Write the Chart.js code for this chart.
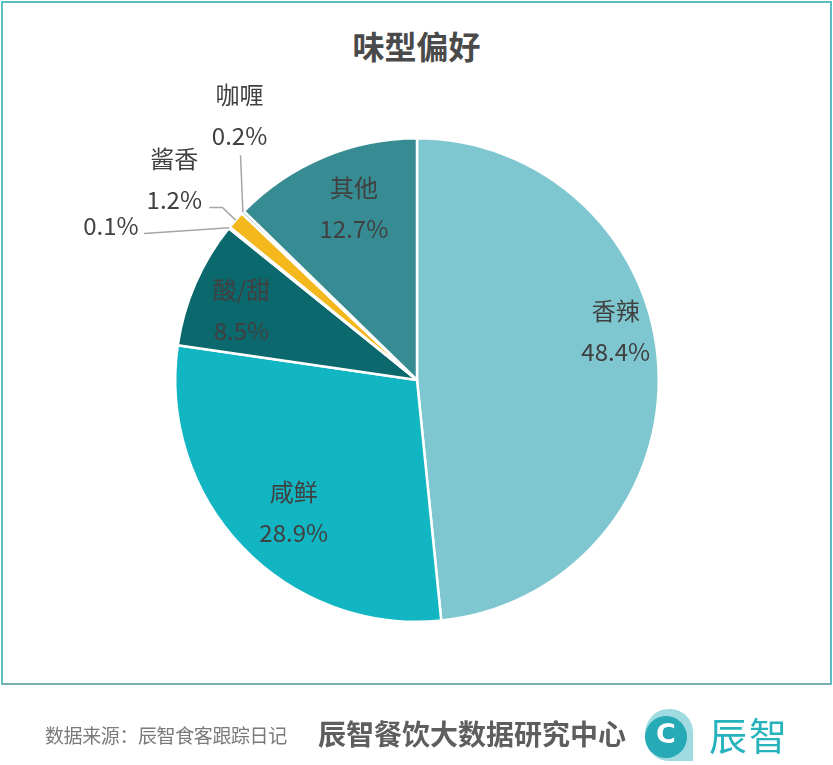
<!DOCTYPE html>
<html>
<head>
<meta charset="utf-8">
<script src="https://cdn.jsdelivr.net/npm/chart.js@4"></script>
<style>
  html, body { margin: 0; padding: 0; background: #ffffff; }
  #wrap { position: relative; width: 833px; height: 765px; overflow: hidden; font-family: "Noto Sans CJK SC", "Noto Sans", sans-serif; }
  #frame { position: absolute; left: 1px; top: 1px; width: 827px; height: 680px; border: 2px solid #5dbdc4; border-bottom-color: #78aeb0; }
  #title { position: absolute; left: 0; width: 833px; top: 21px; text-align: center; font-size: 32px; font-weight: bold; color: #4a4a4a; line-height: 48px; }
  canvas { position: absolute; left: 0; top: 0; }
  #src { position: absolute; left: 45px; top: 721px; font-size: 19px; color: #7a7a7a; line-height: 28px; letter-spacing: -0.4px; }
  #org { position: absolute; left: 318px; top: 713px; font-size: 28px; font-weight: bold; color: #5e5e5e; line-height: 40px; letter-spacing: 0px; }
  #logo { position: absolute; left: 643px; top: 707px; width: 52px; height: 56px; }
  #logoC { position: absolute; left: 643px; top: 715px; width: 46px; text-align: center; font-size: 27px; font-weight: bold; color: #ffffff; line-height: 38px; font-family: "DejaVu Sans", sans-serif; }
  #brand { position: absolute; left: 709px; top: 709px; font-size: 38px; color: #27b3bd; line-height: 50px; letter-spacing: 2px; }
</style>
</head>
<body>
<div id="wrap">
  <div id="frame"></div>
  <div id="title">味型偏好</div>
  <canvas id="c" width="833" height="765"></canvas>
  <div id="src">数据来源：辰智食客跟踪日记</div>
  <div id="org">辰智餐饮大数据研究中心</div>
  <svg id="logo" viewBox="0 0 52 56">
    <path d="M26 2 C40 2 50 12 50 26 L50 54 L26 54 C12 54 2 42 2 28 C2 13 12 2 26 2 Z" fill="#9fdbe0"/>
    <circle cx="23" cy="30" r="21" fill="#26aab6"/>
  </svg>
  <div id="logoC">C</div>
  <div id="brand">辰智</div>
</div>
<script>
// ---- data ----
const categories = ["香辣", "咸鲜", "酸/甜", "", "酱香", "咖喱", "其他"];
const shares = [48.4, 28.9, 8.5, 0.1, 1.2, 0.2, 12.7];
const percentLabels = ["48.4%", "28.9%", "8.5%", "0.1%", "1.2%", "0.2%", "12.7%"];

// ---- styling ----
const sliceColors = ["#7ec7d0", "#12b6c2", "#0b686d", "#9cc9cc", "#f5b81c", "#5fa8ae", "#378b93"];
// label block centre offsets (in units of pie radius, from pie centre)
const labelPlacement = [
  {dx: 0.822, dy: -0.203},
  {dx: -0.510, dy: 0.544},
  {dx: -0.726, dy: -0.290},
  {dx: -1.266, dy: -0.639},
  {dx: -1.004, dy: -0.834},
  {dx: -0.734, dy: -1.095},
  {dx: -0.261, dy: -0.714}
];
// leader line points after the slice edge (units of radius, from pie centre)
const leaders = {
  3: [{dx: -1.129, dy: -0.606}],
  4: [{dx: -0.805, dy: -0.714}, {dx: -0.859, dy: -0.714}],
  5: [{dx: -0.730, dy: -0.930}]
};

const labelPlugin = {
  id: 'sliceLabels',
  afterDatasetsDraw(chart) {
    const ctx = chart.ctx;
    const meta = chart.getDatasetMeta(0);
    meta.data.forEach((arc, i) => {
      const p = arc.getProps(['x', 'y', 'startAngle', 'endAngle', 'outerRadius'], true);
      const R = p.outerRadius;
      const mid = (p.startAngle + p.endAngle) / 2;
      if (leaders[i]) {
        ctx.save();
        ctx.strokeStyle = '#a6a6a6';
        ctx.lineWidth = 1.5;
        ctx.beginPath();
        ctx.moveTo(p.x + Math.cos(mid) * R, p.y + Math.sin(mid) * R);
        leaders[i].forEach(pt => ctx.lineTo(p.x + pt.dx * R, p.y + pt.dy * R));
        ctx.stroke();
        ctx.restore();
      }
      const lp = labelPlacement[i];
      const cx = p.x + lp.dx * R;
      const cy = p.y + lp.dy * R;
      ctx.save();
      ctx.fillStyle = '#404040';
      ctx.textAlign = 'center';
      ctx.textBaseline = 'middle';
      ctx.font = '24px "Noto Sans CJK SC", "Noto Sans", sans-serif';
      if (categories[i]) {
        ctx.fillText(categories[i], cx, cy - 20);
        ctx.fillText(percentLabels[i], cx, cy + 21);
      } else {
        ctx.fillText(percentLabels[i], cx, cy);
      }
      ctx.restore();
    });
  }
};

new Chart(document.getElementById('c'), {
  type: 'pie',
  data: {
    labels: categories,
    datasets: [{
      data: shares,
      backgroundColor: sliceColors,
      borderColor: '#ffffff',
      borderWidth: 2.5
    }]
  },
  options: {
    responsive: false,
    animation: false,
    layout: { padding: { left: 174, right: 173, top: 136, bottom: 141 } },
    plugins: {
      legend: { display: false },
      tooltip: { enabled: false },
      title: { display: false }
    }
  },
  plugins: [labelPlugin]
});
</script>
</body>
</html>
